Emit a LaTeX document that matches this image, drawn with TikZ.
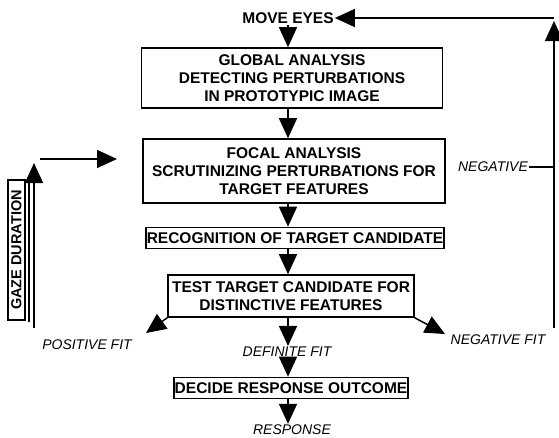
\documentclass[tikz,border=0pt]{standalone}
\usepackage{fontspec}
\setmainfont{Liberation Sans}
\usetikzlibrary{positioning, calc, arrows.meta}

\begin{document}
\begin{tikzpicture}[x=1pt,y=-1pt,box/.style={draw, line width=1.6pt, align=center, inner sep=1pt, font=\fontsize{15.5}{18}\selectfont\bfseries},lbl/.style={inner sep=1pt, font=\fontsize{14}{16}\selectfont\itshape},flow/.style={line width=1.5pt, -{Triangle[width=18pt,length=20pt]}}]
\useasboundingbox (0,0) rectangle (559,437);
\node[inner sep=1pt, font=\fontsize{15.5}{18}\selectfont\bfseries] (move) at (288,18) {MOVE EYES};
\node[box, minimum width=301, minimum height=60] (global) at (292,78) {GLOBAL ANALYSIS\\DETECTING PERTURBATIONS\\IN PROTOTYPIC IMAGE};
\node[box, minimum width=302, minimum height=64] (focal) at (294,171) {FOCAL ANALYSIS\\SCRUTINIZING PERTURBATIONS FOR\\TARGET FEATURES};
\node[box, minimum width=298, minimum height=21] (recog) at (295,238) {RECOGNITION OF TARGET CANDIDATE};
\node[box, minimum width=246, minimum height=42] (test) at (291,296) {TEST TARGET CANDIDATE FOR\\DISTINCTIVE FEATURES};
\node[box, minimum width=228, minimum height=21] (decide) at (291,388) {DECIDE RESPONSE OUTCOME};
\node[lbl] (positive) at (87,345) {POSITIVE FIT}; \node[lbl] (definite) at (287,352) {DEFINITE FIT}; \node[lbl] (negfit) at (498,340) {NEGATIVE FIT};
\node[lbl] (response) at (292,430) {RESPONSE}; \node[lbl] (negative) at (493,167) {NEGATIVE};
\node[box, rotate=90, minimum width=140, minimum height=17, inner sep=0pt, font=\fontsize{14.5}{16}\selectfont\bfseries] (gaze) at (16.5,250) {GAZE DURATION};
\coordinate (loopbot) at (554,328); \coordinate (looptop) at (554,21); \coordinate (loopcorner) at (554,18);
\coordinate (posend) at (146,333); \coordinate (negend) at (445,334);
\coordinate (gazebot) at (34,328); \coordinate (gazetip) at (34,163); \coordinate (gazebot2) at (29,322); \coordinate (gazetop2) at (29,182);
\coordinate (gazestart) at (40,159); \coordinate (gazeend) at (117,159);
\draw[flow] (move.south) -- (global.north -| move.south); \draw[flow] (global.south -| move.south) -- (focal.north -| move.south); \draw[flow] (focal.south -| move.south) -- (recog.north -| move.south);
\draw[flow] (recog.south -| move.south) -- (test.north -| move.south); \draw[flow] (test.south -| move.south) -- (definite.north -| move.south); \draw[flow] (definite.south -| move.south) -- (decide.north -| move.south);
\draw[flow] (decide.south -| move.south) -- (response.north -| move.south);
\draw[flow] (test.south west) -- (posend); \draw[flow] (test.south east) -- (negend);
\draw[flow] (loopbot) -- (looptop); \draw[flow] (loopcorner) -- (move.east); \draw[line width=1.5pt] (negative.east) -- (negative.east -| loopbot);
\draw[flow] (gazebot) -- (gazetip); \draw[line width=1.5pt] (gazebot2) -- (gazetop2); \draw[flow] (gazestart) -- (gazeend);
\end{tikzpicture}
\end{document}
